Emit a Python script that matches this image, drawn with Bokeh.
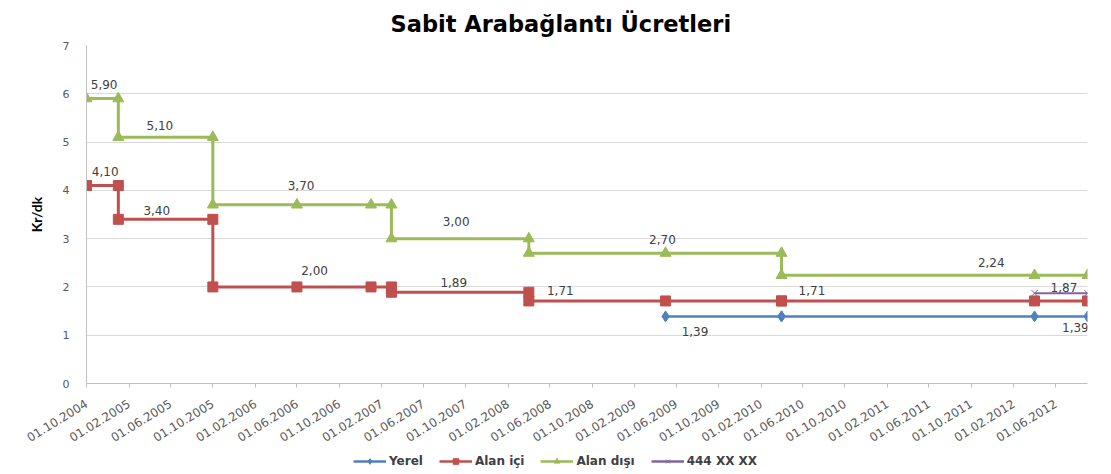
import numpy as np
import pandas as pd
from bokeh.plotting import figure
from bokeh.layouts import column
from bokeh.models import (Range1d, FixedTicker, Legend, LegendItem, ColumnDataSource,
                          LabelSet, DatetimeTickFormatter)
from bokeh.core.properties import value
from bokeh.embed import file_html
from bokeh.resources import INLINE

# ---------------- data ----------------
title_text = "Sabit Arabağlantı Ücretleri"
y_label = "Kr/dk"

dates = ["2004-10-01", "2005-01-01", "2005-01-01", "2005-10-01", "2005-10-01",
         "2006-06-01", "2007-01-01", "2007-03-01", "2007-03-01", "2008-04-01",
         "2008-04-01", "2009-05-01", "2010-04-01", "2010-04-01", "2012-04-01",
         "2012-09-01"]
nan = np.nan
yerel = [nan, nan, nan, nan, nan, nan, nan, nan, nan, nan, nan,
         1.39, 1.39, 1.39, 1.39, 1.39]
alan_ici = [4.10, 4.10, 3.40, 3.40, 2.00, 2.00, 2.00, 2.00, 1.89, 1.89,
            1.71, 1.71, 1.71, 1.71, 1.71, 1.71]
alan_disi = [5.90, 5.90, 5.10, 5.10, 3.70, 3.70, 3.70, 3.70, 3.00, 3.00,
             2.70, 2.70, 2.70, 2.24, 2.24, 2.24]
hat_444 = [nan, nan, nan, nan, nan, nan, nan, nan, nan, nan, nan, nan, nan, nan,
           1.87, 1.87]

series_names = ["Yerel", "Alan içi", "Alan dışı", "444 XX XX"]

tick_labels = ["01.10.2004", "01.02.2005", "01.06.2005", "01.10.2005", "01.02.2006",
               "01.06.2006", "01.10.2006", "01.02.2007", "01.06.2007", "01.10.2007",
               "01.02.2008", "01.06.2008", "01.10.2008", "01.02.2009", "01.06.2009",
               "01.10.2009", "01.02.2010", "01.06.2010", "01.10.2010", "01.02.2011",
               "01.06.2011", "01.10.2011", "01.02.2012", "01.06.2012"]
y_ticks = [0, 1, 2, 3, 4, 5, 6, 7]

label_texts = ["5,90", "4,10", "5,10", "3,40", "3,70", "2,00", "3,00", "1,89",
               "1,71", "2,70", "1,39", "1,71", "2,24", "1,87", "1,39"]
label_values = [5.90, 4.10, 5.10, 3.40, 3.70, 2.00, 3.00, 1.89,
                1.71, 2.70, 1.39, 1.71, 2.24, 1.87, 1.39]
label_dates = ["2004-11-21", "2004-11-24", "2005-05-01", "2005-04-22", "2006-06-13",
               "2006-07-22", "2007-09-04", "2007-08-28", "2008-07-01", "2009-04-22",
               "2009-07-25", "2010-06-28", "2011-11-28", "2012-06-25", "2012-07-28"]

# ---------------- styling ----------------
label_offsets = [14, 14, 12, 9, 19, 16, 17, 10, 10, 14, -15, 10, 13, 6, -11]
colors = ["#4F81BD", "#C0504D", "#9BBB59", "#8064A2"]
FONT = "DejaVu Sans"
W = 1095

x = pd.to_datetime(dates)
tick_ms = [pd.Timestamp(pd.to_datetime(t, format="%d.%m.%Y")).value / 1e6 for t in tick_labels]

p = figure(width=W, height=449, x_axis_type="datetime",
           x_range=Range1d(start=x[0], end=x[-1]), y_range=Range1d(0, 7),
           output_backend="svg", toolbar_location=None,
           min_border_left=86, min_border_right=8, min_border_top=45, min_border_bottom=65)

p.title.text = title_text
p.title.align = "left"
p.title.offset = 304
p.title.text_font = FONT
p.title.text_font_style = "bold"
p.title.text_font_size = "22.5px"
p.title.text_color = "#000000"
p.title.standoff = 17

p.outline_line_color = None
p.background_fill_color = "white"
p.border_fill_color = "white"
p.xgrid.grid_line_color = None
p.ygrid.grid_line_color = "#d9d9d9"
p.ygrid.grid_line_width = 1.2

p.xaxis.ticker = FixedTicker(ticks=tick_ms)
fmt = "%d.%m.%Y"
p.xaxis.formatter = DatetimeTickFormatter(microseconds=fmt, milliseconds=fmt, seconds=fmt,
                                          minsec=fmt, minutes=fmt, hourmin=fmt, hours=fmt,
                                          days=fmt, months=fmt, years=fmt)
p.xaxis.major_label_orientation = 0.55
p.xaxis.major_label_text_font = FONT
p.xaxis.major_label_text_font_size = "12px"
p.xaxis.major_label_text_color = "#595959"
p.xaxis.major_label_standoff = 15
p.xaxis.axis_line_color = "#bfbfbf"
p.xaxis.major_tick_line_color = "#bfbfbf"
p.xaxis.major_tick_out = 4
p.xaxis.major_tick_in = 0
p.xaxis.minor_tick_line_color = None

p.yaxis.ticker = FixedTicker(ticks=y_ticks)
p.yaxis.axis_label = y_label
p.yaxis.axis_label_text_font = "Lato"
p.yaxis.axis_label_text_font_style = "bold"
p.yaxis.axis_label_text_font_size = "14px"
p.yaxis.axis_label_text_color = "#000000"
p.yaxis.axis_label_standoff = 15
p.yaxis.major_label_text_font = FONT
p.yaxis.major_label_text_font_size = "11px"
p.yaxis.major_label_text_color = "#595959"
p.yaxis.major_label_standoff = 17
p.yaxis.axis_line_color = "#bfbfbf"
p.yaxis.major_tick_line_color = None
p.yaxis.major_tick_out = 0
p.yaxis.major_tick_in = 0
p.yaxis.minor_tick_line_color = None

src = ColumnDataSource(dict(x=x, yerel=yerel, ici=alan_ici, disi=alan_disi, h444=hat_444))

p.line("x", "yerel", source=src, color=colors[0], line_width=2.5)
p.scatter("x", "yerel", source=src, marker="diamond", size=11, color=colors[0])
p.line("x", "ici", source=src, color=colors[1], line_width=3)
p.scatter("x", "ici", source=src, marker="square", size=10, color=colors[1])
p.line("x", "disi", source=src, color=colors[2], line_width=3)
p.scatter("x", "disi", source=src, marker="triangle", size=11, color=colors[2])
p.line("x", "h444", source=src, color=colors[3], line_width=2)
p.scatter("x", "h444", source=src, marker="x", size=9, color=colors[3], line_width=1)

lsrc = ColumnDataSource(dict(x=pd.to_datetime(label_dates), y=label_values,
                             t=label_texts, off=label_offsets))
labels = LabelSet(x="x", y="y", text="t", y_offset="off", source=lsrc,
                  text_align="center", text_baseline="middle",
                  text_font=value(FONT), text_font_size=value("12px"),
                  text_color="#404040")
p.add_layout(labels)

# ---------------- legend strip below the chart ----------------
lg = figure(width=W, height=19, x_range=Range1d(0, 1), y_range=Range1d(0, 1),
            output_backend="svg", toolbar_location=None,
            min_border_left=86, min_border_right=8, min_border_top=0, min_border_bottom=0)
lg.axis.visible = False
lg.grid.grid_line_color = None
lg.outline_line_color = None
# legend swatches need one (off-screen) sample point to take their style from
swatch = ColumnDataSource(dict(x=[-5.0], y=[-5.0]))
markers = ["diamond", "square", "triangle", "x"]
msizes = [9, 9, 10, 8]
items = []
for name, c, m, ms in zip(series_names, colors, markers, msizes):
    rl = lg.line("x", "y", source=swatch, color=c, line_width=2.5)
    rs = lg.scatter("x", "y", source=swatch, marker=m, size=ms, color=c)
    items.append(LegendItem(label=name, renderers=[rl, rs]))
legend = Legend(items=items, orientation="horizontal", location=(267, 0),
                label_text_font=FONT, label_text_font_style="bold",
                label_text_font_size="12px", label_text_color="#404040",
                glyph_width=33, glyph_height=14, label_standoff=3, spacing=16,
                padding=2, margin=0, border_line_color=None, background_fill_alpha=0)
lg.add_layout(legend)

open("out.html", "w").write(file_html(column(p, lg, spacing=0), INLINE))
